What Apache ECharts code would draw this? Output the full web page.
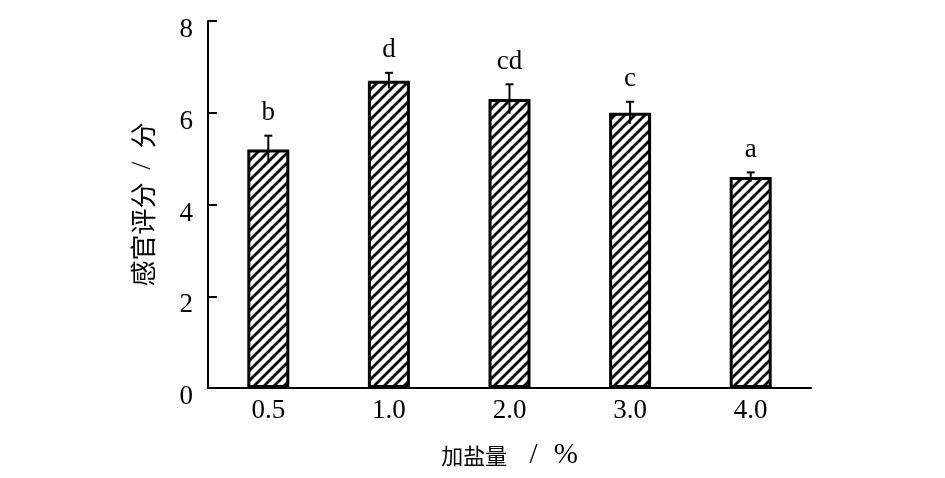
<!DOCTYPE html>
<html>
<head>
<meta charset="utf-8">
<script src="https://cdn.jsdelivr.net/npm/echarts@6/dist/echarts.min.js"></script>
<style>
html,body{margin:0;padding:0;background:#fff;}
#main{width:945px;height:478px;}
</style>
</head>
<body>
<div id="main"></div>
<script>
var categories = ['0.5', '1.0', '2.0', '3.0', '4.0'];
var values = [5.2, 6.7, 6.3, 6.0, 4.6];
var errors = [0.3, 0.17, 0.32, 0.24, 0.1];
var letters = ['b', 'd', 'cd', 'c', 'a'];
var yTicks = [0, 2, 4, 6, 8];
var xNameParts = ['加盐量', ' / ', '%'];
var yNameParts = ['感官评分', ' / ', '分'];

var SERIF = "'Liberation Serif', 'Times New Roman', serif";
var CJK = "'Noto Sans CJK SC', 'Liberation Serif', sans-serif";

function makeHatch() {
  var s = 10;
  var c = document.createElement('canvas');
  c.width = s; c.height = s;
  var ctx = c.getContext('2d');
  ctx.fillStyle = '#fff';
  ctx.fillRect(0, 0, s, s);
  ctx.strokeStyle = '#000';
  ctx.lineWidth = 2.8;
  ctx.beginPath();
  ctx.moveTo(-2, s + 2); ctx.lineTo(s + 2, -2);
  ctx.moveTo(-2, 2); ctx.lineTo(2, -2);
  ctx.moveTo(s - 2, s + 2); ctx.lineTo(s + 2, s - 2);
  ctx.stroke();
  return c;
}

var chart = echarts.init(document.getElementById('main'), null, {renderer: 'canvas'});

var errData = values.map(function (v, i) { return [i, v, errors[i]]; });

var option = {
  animation: false,
  backgroundColor: '#fff',
  grid: {left: 208, right: 134, top: 21, bottom: 90, outerBoundsMode: 'none', containLabel: false},
  xAxis: {
    type: 'category',
    data: categories,
    boundaryGap: true,
    axisLine: {lineStyle: {color: '#000', width: 2}},
    axisTick: {inside: true, length: 10, alignWithLabel: false, lineStyle: {color: '#000', width: 2}},
    axisLabel: {margin: 9, color: '#000', fontSize: 27, fontFamily: SERIF},
    splitLine: {show: false},
    name: '{c|' + xNameParts[0] + '}{s|' + xNameParts[1] + '}{p|' + xNameParts[2] + '}',
    nameLocation: 'middle',
    nameGap: 53,
    nameTextStyle: {
      color: '#000', fontSize: 22, fontFamily: CJK,
      rich: {
        c: {fontSize: 22, fontFamily: CJK, color: '#000'},
        s: {fontSize: 29, fontFamily: SERIF, color: '#000', padding: [0, 9, 0, 15]},
        p: {fontSize: 29, fontFamily: SERIF, color: '#000'}
      }
    }
  },
  yAxis: {
    type: 'value',
    min: yTicks[0],
    max: yTicks[yTicks.length - 1],
    interval: 2,
    axisLine: {show: true, lineStyle: {color: '#000', width: 2}},
    axisTick: {show: true, inside: true, length: 9, lineStyle: {color: '#000', width: 2}},
    axisLabel: {margin: 15, color: '#000', fontSize: 27, fontFamily: SERIF, verticalAlign: 'top', lineHeight: 18},
    splitLine: {show: false},
    name: '{c|' + yNameParts[0] + '}{s|' + yNameParts[1] + '}{c|' + yNameParts[2] + '}',
    nameLocation: 'middle',
    nameGap: 51,
    nameTextStyle: {
      color: '#000', fontSize: 26, fontFamily: CJK,
      rich: {
        c: {fontSize: 26, fontFamily: CJK, color: '#000'},
        s: {fontSize: 28, fontFamily: SERIF, color: '#000', padding: [0, 6, 0, 6]}
      }
    }
  },
  series: [
    {
      type: 'bar',
      data: values,
      barWidth: 42,
      itemStyle: {
        color: {image: makeHatch(), repeat: 'repeat'},
        borderColor: '#000',
        borderWidth: 3
      },
      z: 2
    },
    {
      type: 'custom',
      data: errData,
      encode: {x: 0, y: 1},
      z: 5,
      renderItem: function (params, api) {
        var i = api.value(0), v = api.value(1), e = api.value(2);
        var letter = letters[params.dataIndex];
        var top = api.coord([i, v + e]);
        var bot = api.coord([i, v - e]);
        var cw = 4;
        return {
          type: 'group',
          children: [
            {type: 'line', shape: {x1: top[0], y1: top[1], x2: bot[0], y2: bot[1]}, style: {stroke: '#000', lineWidth: 2}},
            {type: 'line', shape: {x1: top[0] - cw, y1: top[1], x2: top[0] + cw, y2: top[1]}, style: {stroke: '#000', lineWidth: 2}},
            {type: 'text', x: top[0], y: top[1] - 9, style: {text: letter, fill: '#000', font: '27px ' + SERIF, textAlign: 'center', textVerticalAlign: 'bottom'}}
          ]
        };
      }
    }
  ]
};
chart.setOption(option);
</script>
</body>
</html>
